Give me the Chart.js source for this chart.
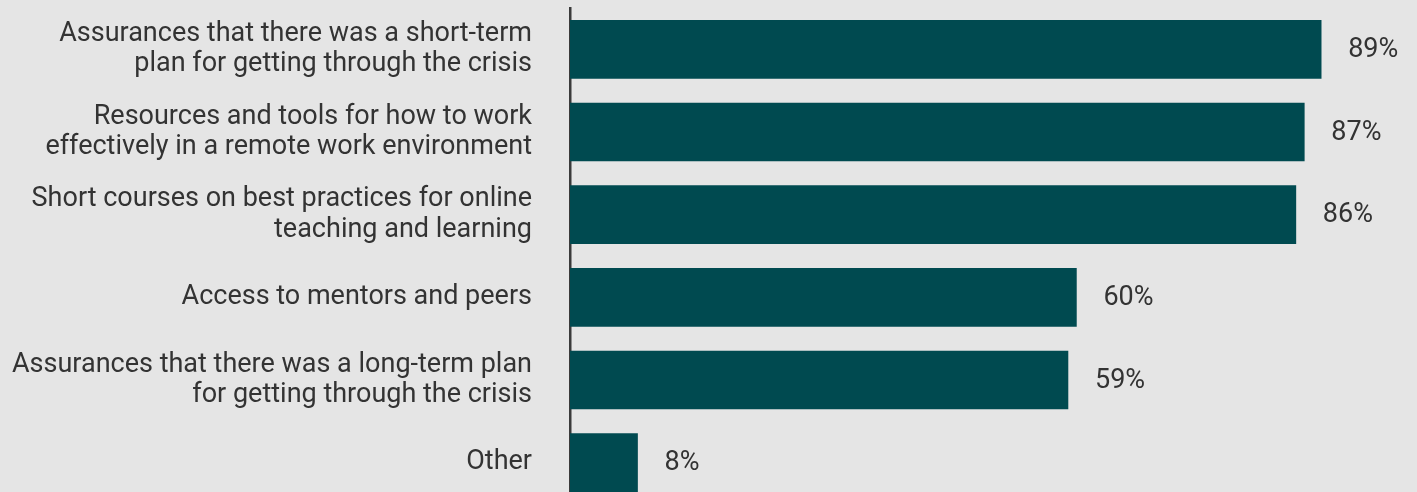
<!DOCTYPE html>
<html>
<head>
<meta charset="utf-8">
<script src="https://cdn.jsdelivr.net/npm/chart.js@4/dist/chart.umd.min.js"></script>
<style>
html,body{margin:0;padding:0;background:#e5e5e5;overflow:hidden;}
#wrap{width:1417px;height:504px;position:relative;}
</style>
</head>
<body>
<div id="wrap"><canvas id="c" width="1417" height="504"></canvas></div>
<script>
const categories = [
  ["Assurances that there was a short-term", "plan for getting through the crisis"],
  ["Resources and tools for how to work", "effectively in a remote work environment"],
  ["Short courses on best practices for online", "teaching and learning"],
  "Access to mentors and peers",
  ["Assurances that there was a long-term plan", "for getting through the crisis"],
  "Other"
];
const values = [89, 87, 86, 60, 59, 8];
const valueLabels = ["89%", "87%", "86%", "60%", "59%", "8%"];

const bgPlugin = {
  id: 'bg',
  beforeDraw(chart) {
    const ctx = chart.ctx;
    ctx.save();
    ctx.fillStyle = '#e5e5e5';
    ctx.fillRect(0, 0, chart.width, chart.height);
    ctx.restore();
  }
};
const valuePlugin = {
  id: 'vals',
  afterDatasetsDraw(chart) {
    const ctx = chart.ctx;
    const meta = chart.getDatasetMeta(0);
    ctx.save();
    ctx.font = '27px Roboto';
    ctx.fillStyle = '#333333';
    ctx.textAlign = 'left';
    ctx.textBaseline = 'middle';
    meta.data.forEach((bar, i) => {
      ctx.fillText(valueLabels[i], bar.x + 27, bar.y + 1);
    });
    ctx.restore();
  }
};

new Chart(document.getElementById('c'), {
  type: 'bar',
  data: {
    labels: categories,
    datasets: [{
      data: values,
      backgroundColor: '#004a50',
      barThickness: 58,
      borderWidth: 0
    }]
  },
  options: {
    indexAxis: 'y',
    responsive: false,
    animation: false,
    layout: { padding: { top: 8, right: 3, left: 0, bottom: 0 } },
    plugins: { legend: { display: false }, tooltip: { enabled: false } },
    scales: {
      x: { display: false, min: 0, max: 100 },
      y: {
        afterFit(scale) { scale.width = 570; scale.paddingTop = 0; scale.paddingBottom = 0; },
        grid: { display: false, drawTicks: false },
        border: { display: true, color: '#3a3a3a', width: 2.5 },
        ticks: {
          padding: 38,
          color: '#333333',
          font: { family: 'Roboto', size: 27, lineHeight: 1.12 },
          autoSkip: false
        }
      }
    }
  },
  plugins: [bgPlugin, valuePlugin]
});
</script>
</body>
</html>
